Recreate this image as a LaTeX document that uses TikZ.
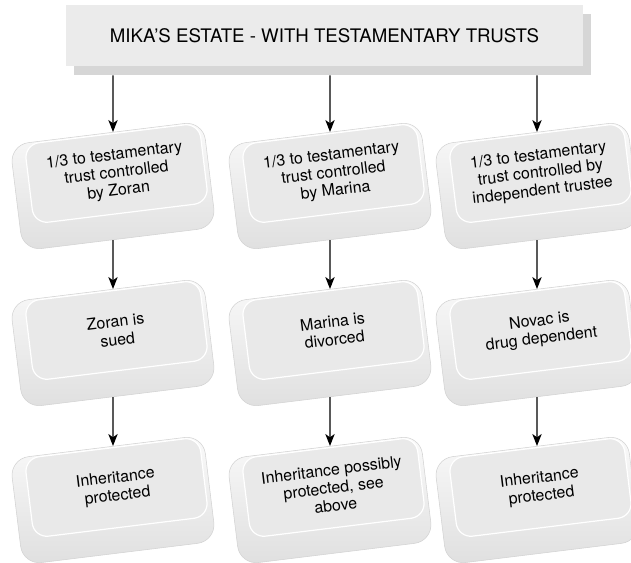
\documentclass[tikz,border=0pt]{standalone}
\usepackage{fontspec}
\setsansfont{TeX Gyre Heros}
\usepackage{tikz}
\usetikzlibrary{arrows.meta,positioning,calc}
\definecolor{capFace}{HTML}{E9E9E9}
\definecolor{capRim}{HTML}{FAFAFA}
\definecolor{capEdge}{HTML}{D2D2D2}
\definecolor{headFill}{HTML}{EBEBEB}
\definecolor{headShade}{HTML}{D6D6D6}
\tikzset{
  cap/rim/.style={draw=capEdge, thin, top color=capRim, bottom color=capEdge!70, rounded corners=14pt, minimum width=146pt, minimum height=80pt, inner sep=0pt, rotate=7},
  cap/face/.style={draw=white, line width=0.9pt, fill=capFace, rounded corners=11pt, minimum width=132pt, minimum height=60pt, inner sep=2pt, align=center, rotate=7, font=\sffamily\fontsize{12}{13.4}\selectfont},
  head/box/.style={fill=headFill, minimum width=388pt, minimum height=46pt, inner sep=0pt, font=\sffamily\fontsize{14}{16}\selectfont},
  head/shade/.style={fill=headShade, minimum width=388pt, minimum height=46pt, inner sep=0pt},
  arr/.style={-{Stealth[length=9pt,width=7pt,inset=2.5pt]}, line width=0.9pt}
}

\begin{document}
\begin{tikzpicture}[x=0.75pt, y=0.75pt]
  \useasboundingbox (0,0) rectangle (631,562);

  \node[head/shade] (shade) at (332.5,517.5) {};
  \node[head/box] (head) at (324.5,526.5) {MIKA’S ESTATE - WITH TESTAMENTARY TRUSTS};

  % keycap boxes, tilted a little
  \foreach \nm/\cx/\cy/\txt in {
      zoranTrust/113/376/{1/3 to testamentary\\trust controlled\\by Zoran},
      marinaTrust/330/376/{1/3 to testamentary\\trust controlled\\by Marina},
      novacTrust/537/376/{1/3 to testamentary\\trust controlled by\\independent trustee},
      zoranSued/113/219/{Zoran is\\sued},
      marinaSued/330/219/{Marina is\\divorced},
      novacSued/537/219/{Novac is\\drug dependent},
      zoranResult/113/62/{Inheritance\\protected},
      marinaResult/330/62/{Inheritance possibly\\protected, see\\above},
      novacResult/537/62/{Inheritance\\protected}}
  {
    \node[cap/rim] (\nm) at (\cx,\cy) {};
    \node[cap/face] (\nm-face) at ($(\nm.center)+(3.5,12.5)$) {\txt};
  }

  \foreach \nm in {zoranTrust, marinaTrust, novacTrust}
    \draw[arr] (shade.south -| \nm.center) -- (\nm);

  \foreach \a/\b in {zoranTrust/zoranSued, marinaTrust/marinaSued, novacTrust/novacSued,
      zoranSued/zoranResult, marinaSued/marinaResult, novacSued/novacResult}
    \draw[arr] (\a) -- (\b);
\end{tikzpicture}
\end{document}
